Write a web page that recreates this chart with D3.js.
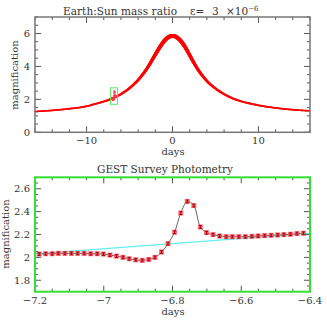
<!DOCTYPE html>
<html>
<head>
<meta charset="utf-8">
<script src="https://cdn.jsdelivr.net/npm/d3@7"></script>
<style>
  body { margin: 0; background: #fff; }
  svg { display: block; }
  text { font-family: "DejaVu Serif", serif; fill: #333; }
</style>
</head>
<body>
<script>
// top panel: model light curve (days, magnification)
const modelDays = [-16, -14, -12, -10, -9, -8, -7, -6, -5, -4, -3, -2, -1.5, -1, -0.5, 0,
  0.5, 1, 1.5, 2, 3, 4, 5, 6, 7, 8, 9, 10, 12, 14, 16];
const modelMag = [1.26, 1.33, 1.43, 1.58, 1.72, 1.87, 2.05, 2.32, 2.68, 3.18, 3.85, 4.72, 5.15, 5.52, 5.77, 5.85,
  5.77, 5.52, 5.15, 4.68, 3.78, 3.12, 2.66, 2.32, 2.06, 1.88, 1.75, 1.64, 1.48, 1.37, 1.30];

// bottom panel: GEST survey photometry
const obsDays = [-7.188, -7.169, -7.150, -7.132, -7.113, -7.094, -7.076, -7.057, -7.038, -7.019,
  -7.001, -6.982, -6.963, -6.944, -6.926, -6.907, -6.888, -6.869, -6.851, -6.832,
  -6.813, -6.794, -6.776, -6.757, -6.738, -6.719, -6.701, -6.682, -6.663, -6.644,
  -6.626, -6.607, -6.588, -6.569, -6.551, -6.532, -6.513, -6.494, -6.476, -6.457,
  -6.438, -6.419];
const obsMag = [2.029, 2.032, 2.032, 2.035, 2.035, 2.035, 2.035, 2.035, 2.032, 2.032,
  2.029, 2.020, 2.011, 2.000, 1.988, 1.979, 1.974, 1.982, 2.000, 2.047,
  2.120, 2.220, 2.387, 2.489, 2.453, 2.266, 2.216, 2.199, 2.187, 2.181,
  2.181, 2.181, 2.181, 2.184, 2.187, 2.190, 2.193, 2.196, 2.199, 2.202,
  2.208, 2.211];
const obsErr = 0.012;

// no-planet model across the zoom window
const baseDays = [-7.2, -6.8, -6.4];
const baseMag = [2.03, 2.12, 2.21];

const topXTicks = [-10, 0, 10];
const topYTicks = [0, 2, 4, 6];
const botXTicks = [-7.2, -7, -6.8, -6.6, -6.4];
const botYTicks = [1.8, 2, 2.2, 2.4, 2.6];

const W = 327, H = 327;
const svg = d3.select("body").append("svg").attr("width", W).attr("height", H);

const fmt = d => d3.format("")(d).replace("-", "\u2212");

function frame(g, x, y, color, width, majX, minX, majY, minY) {
  const [x0, x1] = x.range(), [y0, y1] = y.range();
  const t = g.append("g").attr("stroke", "#555").attr("stroke-width", 1);
  const xs = d3.range(x.domain()[0], x.domain()[1] + 1e-9, minX);
  xs.forEach(v => {
    const major = Math.abs(v / majX - Math.round(v / majX)) < 1e-6;
    const len = major ? 6 : 3;
    t.append("line").attr("x1", x(v)).attr("x2", x(v)).attr("y1", y0).attr("y2", y0 - len);
    t.append("line").attr("x1", x(v)).attr("x2", x(v)).attr("y1", y1).attr("y2", y1 + len);
  });
  const ys = d3.range(y.domain()[0], y.domain()[1] + 1e-9, minY);
  ys.forEach(v => {
    const major = Math.abs(v / majY - Math.round(v / majY)) < 1e-6;
    const len = major ? 6 : 3;
    t.append("line").attr("y1", y(v)).attr("y2", y(v)).attr("x1", x0).attr("x2", x0 + len);
    t.append("line").attr("y1", y(v)).attr("y2", y(v)).attr("x1", x1).attr("x2", x1 - len);
  });
  g.append("rect").attr("x", x0).attr("y", y1).attr("width", x1 - x0).attr("height", y0 - y1)
    .attr("fill", "none").attr("stroke", color).attr("stroke-width", width);
}

// ---------- top panel ----------
const xT = d3.scaleLinear().domain([-16, 16]).range([35, 310]);
const yT = d3.scaleLinear().domain([0, 7]).range([132.3, 17]);
const topG = svg.append("g");

const model = modelDays.map((d, i) => ({ t: d, a: modelMag[i] }));
const line = d3.line().x(d => xT(d.t)).y(d => yT(d.a)).curve(d3.curveMonotoneX);
const guide = topG.append("path").attr("d", line(model)).attr("fill", "none").attr("stroke", "none");
const len = guide.node().getTotalLength();
let prev = guide.node().getPointAtLength(0);
for (let s = 1; s <= len; s += 1) {
  const p = guide.node().getPointAtLength(Math.min(s, len));
  const a = yT.invert((p.y + prev.y) / 2);
  topG.append("line").attr("x1", prev.x).attr("y1", prev.y).attr("x2", p.x).attr("y2", p.y)
    .attr("stroke", "#ff0000").attr("stroke-linecap", "round")
    .attr("stroke-width", 0.9 + 0.55 * a);
  prev = p;
}

// data inside zoom box at true scale
topG.selectAll(".dot").data(obsDays).enter().append("rect")
  .attr("x", (d, i) => xT(d) - 1).attr("y", (d, i) => yT(obsMag[i]) - 1)
  .attr("width", 2).attr("height", 2).attr("fill", "#ff3344").attr("opacity", 0.8);

topG.append("rect")
  .attr("x", xT(-7.2)).attr("y", yT(2.7))
  .attr("width", xT(-6.4) - xT(-7.2)).attr("height", yT(1.7) - yT(2.7))
  .attr("fill", "none").attr("stroke", "#55ee55").attr("stroke-width", 1);

frame(topG, xT, yT, "#777", 1.5, 10, 2, 2, 0.5);

topG.selectAll(".xl").data(topXTicks).enter().append("text")
  .attr("x", d => xT(d)).attr("y", 144).attr("text-anchor", "middle")
  .attr("font-size", 10).text(fmt);
topG.selectAll(".yl").data(topYTicks).enter().append("text")
  .attr("x", 30).attr("y", d => yT(d) + 3.5).attr("text-anchor", "end")
  .attr("font-size", 10).text(fmt);
topG.append("text").attr("x", 173).attr("y", 155).attr("text-anchor", "middle")
  .attr("font-size", 10).text("days");
topG.append("text").attr("transform", "translate(18,75) rotate(-90)").attr("text-anchor", "middle")
  .attr("font-size", 10).text("magnification");

const title = topG.append("text").attr("y", 14.5).attr("font-size", 10.5);
title.append("tspan").attr("x", 63).attr("textLength", 114).text("Earth:Sun mass ratio");
title.append("tspan").attr("x", 190).text("\u03b5=");
title.append("tspan").attr("x", 212).text("3");
title.append("tspan").attr("x", 226).text("\u00d710");
title.append("tspan").attr("dy", -4).attr("font-size", 7).text("\u22126");

// ---------- bottom panel ----------
const xB = d3.scaleLinear().domain([-7.2, -6.4]).range([35, 310]);
const yB = d3.scaleLinear().domain([1.7, 2.7]).range([291.7, 177.3]);
const botG = svg.append("g");

botG.append("path")
  .datum(baseDays.map((d, i) => [d, baseMag[i]]))
  .attr("d", d3.line().x(d => xB(d[0])).y(d => yB(d[1])))
  .attr("fill", "none").attr("stroke", "#66eeee").attr("stroke-width", 1.2);

const obs = obsDays.map((d, i) => ({ t: d, a: obsMag[i] }));
botG.append("path")
  .attr("d", d3.line().x(d => xB(d.t)).y(d => yB(d.a)).curve(d3.curveCatmullRom)(obs))
  .attr("fill", "none").attr("stroke", "#555").attr("stroke-width", 0.9);

const pts = botG.selectAll(".pt").data(obs).enter().append("g");
pts.append("rect")
  .attr("x", d => xB(d.t) - 2.5).attr("y", d => yB(d.a) - 2.5)
  .attr("width", 5).attr("height", 5).attr("fill", "#ff4455").attr("opacity", 0.75);
pts.append("line")
  .attr("x1", d => xB(d.t)).attr("x2", d => xB(d.t))
  .attr("y1", d => yB(d.a - obsErr)).attr("y2", d => yB(d.a + obsErr))
  .attr("stroke", "#aa0000").attr("stroke-width", 1);
pts.append("line")
  .attr("x1", d => xB(d.t) - 1.5).attr("x2", d => xB(d.t) + 1.5)
  .attr("y1", d => yB(d.a - obsErr)).attr("y2", d => yB(d.a - obsErr))
  .attr("stroke", "#aa0000").attr("stroke-width", 1);
pts.append("line")
  .attr("x1", d => xB(d.t) - 1.5).attr("x2", d => xB(d.t) + 1.5)
  .attr("y1", d => yB(d.a + obsErr)).attr("y2", d => yB(d.a + obsErr))
  .attr("stroke", "#aa0000").attr("stroke-width", 1);

frame(botG, xB, yB, "#33e033", 2, 0.2, 0.05, 0.2, 0.05);

botG.selectAll(".xl").data(botXTicks).enter().append("text")
  .attr("x", d => xB(d)).attr("y", 304).attr("text-anchor", "middle")
  .attr("font-size", 10).text(fmt);
botG.selectAll(".yl").data(botYTicks).enter().append("text")
  .attr("x", 30).attr("y", d => yB(d) + 3.5).attr("text-anchor", "end")
  .attr("font-size", 10).text(fmt);
botG.append("text").attr("x", 173).attr("y", 315).attr("text-anchor", "middle")
  .attr("font-size", 10).text("days");
botG.append("text").attr("transform", "translate(9,234) rotate(-90)").attr("text-anchor", "middle")
  .attr("font-size", 10).text("magnification");
botG.append("text").attr("x", 97).attr("y", 172.7).attr("font-size", 10.5).text("GEST Survey Photometry");
</script>
</body>
</html>
